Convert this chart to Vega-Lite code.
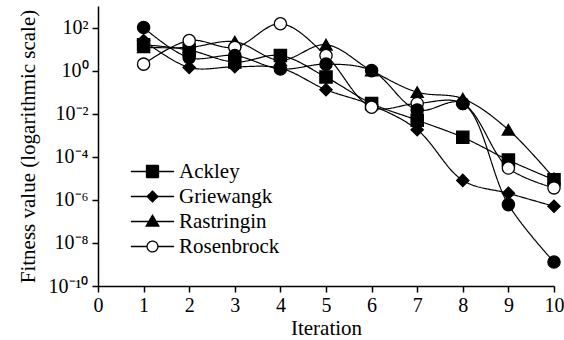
{
  "$schema": "https://vega.github.io/schema/vega-lite/v6.json",
  "width": 456,
  "height": 280,
  "autosize": "none",
  "padding": {"left": 98, "top": 6, "right": 10, "bottom": 54},
  "config": {
    "view": {"stroke": null},
    "font": "Liberation Serif",
    "axis": {
      "grid": false,
      "domainColor": "black",
      "tickColor": "black",
      "labelColor": "black",
      "titleColor": "black",
      "labelFont": "Liberation Serif",
      "titleFont": "Liberation Serif",
      "labelFontSize": 20,
      "titleFontSize": 21,
      "titleFontWeight": "normal",
      "domainWidth": 1.5,
      "tickWidth": 1.5,
      "tickSize": 6
    },
    "legend": {"labelFont": "Liberation Serif, DejaVu Serif, serif", "labelFontSize": 21, "labelColor": "black"}
  },
  "data": {
    "values": [
      {"series": "Ackley", "iteration": 1, "fitness": 16},
      {"series": "Ackley", "iteration": 2, "fitness": 9},
      {"series": "Ackley", "iteration": 3, "fitness": 2.5},
      {"series": "Ackley", "iteration": 4, "fitness": 5},
      {"series": "Ackley", "iteration": 5, "fitness": 0.5},
      {"series": "Ackley", "iteration": 6, "fitness": 0.03},
      {"series": "Ackley", "iteration": 7, "fitness": 0.005},
      {"series": "Ackley", "iteration": 8, "fitness": 0.0008},
      {"series": "Ackley", "iteration": 9, "fitness": 0.00007},
      {"series": "Ackley", "iteration": 10, "fitness": 0.0000085},
      {"series": "Griewangk", "iteration": 1, "fitness": 25},
      {"series": "Griewangk", "iteration": 2, "fitness": 1.4},
      {"series": "Griewangk", "iteration": 3, "fitness": 1.5},
      {"series": "Griewangk", "iteration": 4, "fitness": 1.3},
      {"series": "Griewangk", "iteration": 5, "fitness": 0.13},
      {"series": "Griewangk", "iteration": 6, "fitness": 0.025},
      {"series": "Griewangk", "iteration": 7, "fitness": 0.0018},
      {"series": "Griewangk", "iteration": 8, "fitness": 0.000008},
      {"series": "Griewangk", "iteration": 9, "fitness": 0.000002},
      {"series": "Griewangk", "iteration": 10, "fitness": 0.0000005},
      {"series": "Rastringin", "iteration": 1, "fitness": 12},
      {"series": "Rastringin", "iteration": 2, "fitness": 12},
      {"series": "Rastringin", "iteration": 3, "fitness": 22},
      {"series": "Rastringin", "iteration": 4, "fitness": 3},
      {"series": "Rastringin", "iteration": 5, "fitness": 16},
      {"series": "Rastringin", "iteration": 6, "fitness": 1},
      {"series": "Rastringin", "iteration": 7, "fitness": 0.1},
      {"series": "Rastringin", "iteration": 8, "fitness": 0.05},
      {"series": "Rastringin", "iteration": 9, "fitness": 0.0018},
      {"series": "Rastringin", "iteration": 10, "fitness": 0.00001},
      {"series": "Rosenbrock", "iteration": 1, "fitness": 2},
      {"series": "Rosenbrock", "iteration": 2, "fitness": 25},
      {"series": "Rosenbrock", "iteration": 3, "fitness": 12},
      {"series": "Rosenbrock", "iteration": 4, "fitness": 150},
      {"series": "Rosenbrock", "iteration": 5, "fitness": 5},
      {"series": "Rosenbrock", "iteration": 6, "fitness": 0.02},
      {"series": "Rosenbrock", "iteration": 7, "fitness": 0.03},
      {"series": "Rosenbrock", "iteration": 8, "fitness": 0.03},
      {"series": "Rosenbrock", "iteration": 9, "fitness": 0.00003},
      {"series": "Rosenbrock", "iteration": 10, "fitness": 0.0000036},
      {"series": "Sphere", "iteration": 1, "fitness": 100},
      {"series": "Sphere", "iteration": 2, "fitness": 4},
      {"series": "Sphere", "iteration": 3, "fitness": 5},
      {"series": "Sphere", "iteration": 4, "fitness": 1.2},
      {"series": "Sphere", "iteration": 5, "fitness": 2},
      {"series": "Sphere", "iteration": 6, "fitness": 1},
      {"series": "Sphere", "iteration": 7, "fitness": 0.015},
      {"series": "Sphere", "iteration": 8, "fitness": 0.03},
      {"series": "Sphere", "iteration": 9, "fitness": 0.0000006},
      {"series": "Sphere", "iteration": 10, "fitness": 0.0000000013}
    ]
  },
  "encoding": {
    "x": {
      "field": "iteration",
      "type": "quantitative",
      "scale": {"domain": [0, 10], "nice": false, "zero": false},
      "axis": {
        "values": [0, 1, 2, 3, 4, 5, 6, 7, 8, 9, 10],
        "title": "Iteration",
        "labelPadding": 3,
        "titlePadding": 2,
        "labelFlush": false
      }
    },
    "y": {
      "field": "fitness",
      "type": "quantitative",
      "scale": {"type": "log", "domain": [1e-10, 1000], "nice": false},
      "axis": {
        "values": [1e-10, 1e-8, 1e-6, 1e-4, 1e-2, 1, 100],
        "labelExpr": "round(log(datum.value)/LN10) == 2 ? '10²' : round(log(datum.value)/LN10) == 0 ? '10⁰' : round(log(datum.value)/LN10) == -2 ? '10⁻²' : round(log(datum.value)/LN10) == -4 ? '10⁻⁴' : round(log(datum.value)/LN10) == -6 ? '10⁻⁶' : round(log(datum.value)/LN10) == -8 ? '10⁻⁸' : '10⁻¹⁰'",
        "title": "Fitness value (logarithmic scale)",
        "labelPadding": 4,
        "titlePadding": 10
      }
    }
  },
  "layer": [
    {
      "mark": {"type": "line", "interpolate": "catmull-rom", "color": "black", "strokeWidth": 1.2},
      "encoding": {
        "detail": {"field": "series", "type": "nominal"},
        "strokeDash": {
          "field": "series",
          "type": "nominal",
          "scale": {
            "domain": ["Ackley", "Griewangk", "Rastringin", "Rosenbrock", "Sphere"],
            "range": [[1, 0], [1, 0], [1, 0], [1, 0], [1, 0]]
          },
          "legend": {
            "values": ["Ackley", "Griewangk", "Rastringin", "Rosenbrock"],
            "title": null,
            "orient": "none",
            "legendX": 44,
            "legendY": 155,
            "padding": 0,
            "labelFont": "Liberation Serif, DejaVu Serif, serif",
            "labelFontSize": 21,
            "labelColor": "black",
            "labelOffset": 16,
            "rowPadding": 3,
            "symbolSize": 144,
            "symbolStrokeWidth": 1.3,
            "symbolStrokeColor": "black",
            "symbolOpacity": 1,
            "encode": {
              "symbols": {
                "update": {
                  "shape": {"signal": "datum.value === 'Ackley' ? 'M-3.6,0H3.6M-1,-1H1V1H-1Z' : datum.value === 'Griewangk' ? 'M-3.6,0H3.6M0,-0.9L0.9,0L0,0.9L-0.9,0Z' : datum.value === 'Rastringin' ? 'M-3.6,0H3.6M0,-1.05L1.05,0.75H-1.05Z' : 'M-3.6,0H-0.9M0.9,0H3.6M-0.9,0A0.9,0.9 0 1,1 0.9,0A0.9,0.9 0 1,1 -0.9,0Z'"},
                  "fill": {"signal": "datum.value === 'Rosenbrock' ? 'white' : 'black'"},
                  "stroke": {"value": "black"},
                  "strokeWidth": {"value": 1.3},
                  "opacity": {"value": 1}
                }
              },
              "labels": {
                "update": {
                  "font": {"value": "Liberation Serif, DejaVu Serif, serif"},
                  "fontSize": {"value": 21},
                  "fill": {"value": "black"}
                }
              }
            }
          }
        }
      }
    },
    {
      "mark": {"type": "point", "filled": true, "size": 150, "opacity": 1, "strokeWidth": 1.3},
      "encoding": {
        "shape": {
          "condition": [
            {"test": "datum.series === 'Ackley'", "value": "square"},
            {"test": "datum.series === 'Griewangk'", "value": "diamond"},
            {"test": "datum.series === 'Rastringin'", "value": "triangle-up"}
          ],
          "value": "circle"
        },
        "fill": {"condition": {"test": "datum.series === 'Rosenbrock'", "value": "white"}, "value": "black"},
        "stroke": {"value": "black"}
      }
    }
  ]
}
